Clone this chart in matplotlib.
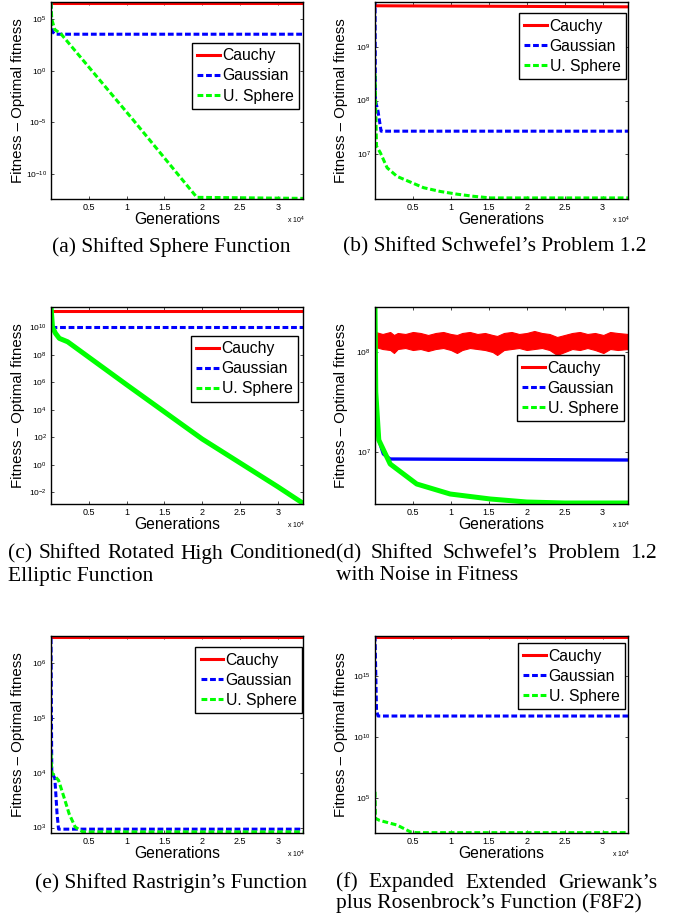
import numpy as np
import matplotlib.pyplot as plt
from matplotlib.lines import Line2D

plt.rcParams['font.family'] = ['Liberation Sans', 'DejaVu Sans']
plt.rcParams['mathtext.default'] = 'regular'

W, H = 680, 919

# x in units of 1e4 generations, y as log10(fitness - optimal fitness)
a_cauchy_x = [0, 3.335]
a_cauchy_y = [6.62, 6.62]
a_gauss_x = [0, 0.005, 0.02, 0.05, 3.335]
a_gauss_y = [6.6, 4.5, 3.8, 3.55, 3.55]
a_sphere_x = [0, 0.01, 0.05, 0.13, 1.09, 1.93, 3.335]
a_sphere_y = [6.6, 5.0, 4.0, 3.6, -4.8, -12.3, -12.4]

b_cauchy_x = [0, 3.335]
b_cauchy_y = [9.76, 9.74]
b_gauss_x = [0, 0.005, 0.04, 0.08, 3.335]
b_gauss_y = [10.0, 8.0, 7.8, 7.43, 7.43]
b_sphere_x = [0, 0.02, 0.07, 0.16, 0.29, 0.49, 0.64, 0.86, 1.08, 1.3, 1.52, 3.335]
b_sphere_y = [8.5, 7.15, 7.03, 6.75, 6.59, 6.47, 6.38, 6.31, 6.26, 6.22, 6.19, 6.19]

c_cauchy_x = [0, 3.335]
c_cauchy_y = [11.2, 11.2]
c_gauss_x = [0, 3.335]
c_gauss_y = [10.04, 10.04]
c_sphere_x = [0, 0.02, 0.06, 0.11, 0.22, 1.0, 2.0, 3.0, 3.335]
c_sphere_y = [11.5, 10.0, 9.56, 9.2, 8.95, 5.83, 1.88, -1.59, -2.8]

d_cauchy_x = [0, 0.005, 0.1, 0.2, 0.25, 0.3, 0.4, 0.5, 0.6, 0.7, 0.8, 0.9, 1.0, 1.08, 1.15, 1.25,
              1.35, 1.45, 1.55, 1.61, 1.7, 1.8, 1.9, 2.0, 2.1, 2.2, 2.3, 2.4, 2.5, 2.6, 2.7,
              2.8, 2.9, 3.01, 3.1, 3.2, 3.335]
d_cauchy_hi = [8.45, 8.2, 8.18, 8.2, 8.17, 8.19, 8.18, 8.2, 8.19, 8.17, 8.19, 8.2, 8.18, 8.17, 8.19, 8.2,
               8.18, 8.19, 8.17, 8.16, 8.19, 8.2, 8.18, 8.19, 8.21, 8.19, 8.18, 8.15, 8.17, 8.19, 8.2,
               8.18, 8.19, 8.17, 8.2, 8.19, 8.18]
d_cauchy_lo = [8.45, 8.05, 8.03, 8.02, 7.99, 8.03, 8.04, 8.02, 8.03, 8.01, 8.03, 8.04, 8.02, 7.99, 8.02, 8.04,
               8.03, 8.02, 8.0, 7.97, 8.02, 8.03, 8.04, 8.02, 8.03, 8.04, 8.02, 7.97, 8.0, 8.03, 8.02,
               8.04, 8.02, 7.99, 8.03, 8.02, 8.03]
d_gauss_x = [0, 0.01, 0.05, 0.11, 0.2, 3.335]
d_gauss_y = [8.45, 7.6, 7.12, 6.98, 6.93, 6.92]
d_sphere_x = [0, 0.01, 0.05, 0.2, 0.55, 0.99, 1.52, 2.0, 2.5, 3.335]
d_sphere_y = [8.45, 7.6, 7.12, 6.88, 6.68, 6.58, 6.53, 6.5, 6.49, 6.49]

e_cauchy_x = [0, 3.335]
e_cauchy_y = [6.47, 6.47]
e_gauss_x = [0, 0.01, 0.05, 0.06, 0.08, 0.1, 3.335]
e_gauss_y = [6.45, 4.0, 3.9, 3.7, 3.25, 2.97, 2.97]
e_sphere_x = [0, 0.01, 0.1, 0.17, 0.24, 0.32, 0.42, 3.335]
e_sphere_y = [4.35, 4.0, 3.86, 3.56, 3.25, 3.01, 2.92, 2.92]

f_cauchy_x = [0, 3.335]
f_cauchy_y = [18.2, 18.2]
f_gauss_x = [0, 0.02, 0.04, 3.335]
f_gauss_y = [18.3, 12.2, 11.73, 11.73]
f_sphere_x = [0, 0.005, 0.06, 0.29, 0.47, 0.55, 3.335]
f_sphere_y = [5.54, 3.37, 3.2, 2.82, 2.25, 2.2, 2.2]

xticks = [0.5, 1, 1.5, 2, 2.5, 3]
xtick_labels = ['0.5', '1', '1.5', '2', '2.5', '3']

panels = [
    dict(box=(51, 2, 303, 199), ylim=(-12.46, 6.68), yticks=[5, 0, -5, -10],
         cauchy=(a_cauchy_x, a_cauchy_y), gauss=(a_gauss_x, a_gauss_y), sphere=(a_sphere_x, a_sphere_y),
         leg=(0.984, 0.792)),
    dict(box=(375, 2, 628, 199), ylim=(6.17, 9.83), yticks=[9, 8, 7],
         cauchy=(b_cauchy_x, b_cauchy_y), gauss=(b_gauss_x, b_gauss_y), sphere=(b_sphere_x, b_sphere_y),
         leg=(0.992, 0.944)),
    dict(box=(51, 307, 303, 504), ylim=(-2.85, 11.48), yticks=[10, 8, 6, 4, 2, 0, -2],
         cauchy=(c_cauchy_x, c_cauchy_y), gauss=(c_gauss_x, c_gauss_y), sphere=(c_sphere_x, c_sphere_y),
         leg=(0.980, 0.853), thick=True),
    dict(box=(375, 307, 628, 504), ylim=(6.48, 8.45), yticks=[8, 7],
         cauchy=None, gauss=(d_gauss_x, d_gauss_y), sphere=(d_sphere_x, d_sphere_y),
         leg=(0.984, 0.756), thick=True),
    dict(box=(51, 636, 303, 833), ylim=(2.9, 6.49), yticks=[6, 5, 4, 3],
         cauchy=(e_cauchy_x, e_cauchy_y), gauss=(e_gauss_x, e_gauss_y), sphere=(e_sphere_x, e_sphere_y),
         leg=(0.996, 0.944)),
    dict(box=(375, 636, 628, 833), ylim=(2.17, 18.27), yticks=[15, 10, 5],
         cauchy=(f_cauchy_x, f_cauchy_y), gauss=(f_gauss_x, f_gauss_y), sphere=(f_sphere_x, f_sphere_y),
         leg=(0.988, 0.964)),
]

fig = plt.figure(figsize=(W / 100, H / 100), dpi=100)

dash = (1.9, 0.9)
handles = [
    Line2D([], [], color='red', lw=2.2),
    Line2D([], [], color='blue', lw=2.2, dashes=dash),
    Line2D([], [], color='#00ff00', lw=2.2, dashes=dash),
]
names = ['Cauchy', 'Gaussian', 'U. Sphere']

for i, p in enumerate(panels):
    x0, y0, x1, y1 = p['box']
    ax = fig.add_axes([x0 / W, 1 - y1 / H, (x1 - x0) / W, (y1 - y0) / H])
    ax.set_yscale('log')

    if p['cauchy'] is not None:
        cx, cy = p['cauchy']
        ax.plot(cx, 10.0 ** np.array(cy), color='red', lw=2.2)
    else:
        ax.fill_between(d_cauchy_x, 10.0 ** np.array(d_cauchy_lo), 10.0 ** np.array(d_cauchy_hi),
                        color='red', lw=0.8, edgecolor='red')
    gx, gy = p['gauss']
    sx, sy = p['sphere']
    if p.get('thick'):
        if i == 3:
            ax.plot(gx, 10.0 ** np.array(gy), color='blue', lw=2.4)
        else:
            ax.plot(gx, 10.0 ** np.array(gy), color='blue', lw=2.2, dashes=dash)
        ax.plot(sx, 10.0 ** np.array(sy), color='#00ff00', lw=3.6, solid_capstyle='butt')
    else:
        ax.plot(gx, 10.0 ** np.array(gy), color='blue', lw=2.2, dashes=dash)
        ax.plot(sx, 10.0 ** np.array(sy), color='#00ff00', lw=2.2, dashes=dash)

    ax.set_xlim(0, 3.335)
    ax.set_ylim(10.0 ** p['ylim'][0], 10.0 ** p['ylim'][1])
    ax.set_yticks([10.0 ** t for t in p['yticks']])
    ax.minorticks_off()
    ax.set_xticks(xticks)
    ax.set_xticklabels(xtick_labels)
    ax.tick_params(direction='in', length=2.5, width=0.5, labelsize=6.5, top=True, right=True, pad=3)
    ax.tick_params(axis='y', labelsize=6)
    for s in ax.spines.values():
        s.set_linewidth(1.0)

    ax.set_xlabel('Generations', fontsize=11.3, labelpad=0)
    ax.set_ylabel('Fitness \u2013 Optimal fitness', fontsize=10.8)
    ax.yaxis.set_label_coords(-0.105, 0.5)
    ax.text(0.972, -0.107, r'x 10$^{4}$', transform=ax.transAxes, fontsize=5, ha='center', va='center')

    leg = ax.legend(handles, names, loc='upper right', bbox_to_anchor=p['leg'], fontsize=11.3,
                    handlelength=1.45, handletextpad=0.15, borderpad=0.35, labelspacing=0.32,
                    borderaxespad=0, fancybox=False, framealpha=1, edgecolor='black')
    leg.get_frame().set_linewidth(1.0)

cap = dict(family='Liberation Serif', fontsize=15.5, va='center')


def justify(words, xa, xb, y):
    texts = [fig.text(xa / W, 1 - y / H, w, **cap) for w in words]
    r = fig.canvas.get_renderer()
    widths = [t.get_window_extent(r).width for t in texts]
    gap = ((xb - xa) - sum(widths)) / (len(words) - 1)
    pos = xa
    for t, w in zip(texts, widths):
        t.set_x(pos / W)
        pos += w + gap


fig.text(171 / W, 1 - 247 / H, '(a) Shifted Sphere Function', ha='center', **cap)
fig.text(495 / W, 1 - 247 / H, '(b) Shifted Schwefel\u2019s Problem 1.2', ha='center', **cap)
justify(['(c)', 'Shifted', 'Rotated', 'High', 'Conditioned'], 8, 336, 554)
fig.text(8 / W, 1 - 576 / H, 'Elliptic Function', **cap)
justify(['(d)', 'Shifted', 'Schwefel\u2019s', 'Problem', '1.2'], 336, 657, 554)
fig.text(336 / W, 1 - 576 / H, 'with Noise in Fitness', **cap)
fig.text(171 / W, 1 - 883 / H, '(e) Shifted Rastrigin\u2019s Function', ha='center', **cap)
justify(['(f)', 'Expanded', 'Extended', 'Griewank\u2019s'], 336, 657, 883)
fig.text(336 / W, 1 - 903 / H, 'plus Rosenbrock\u2019s Function (F8F2)', **cap)

fig.savefig('out.png', dpi=100)
